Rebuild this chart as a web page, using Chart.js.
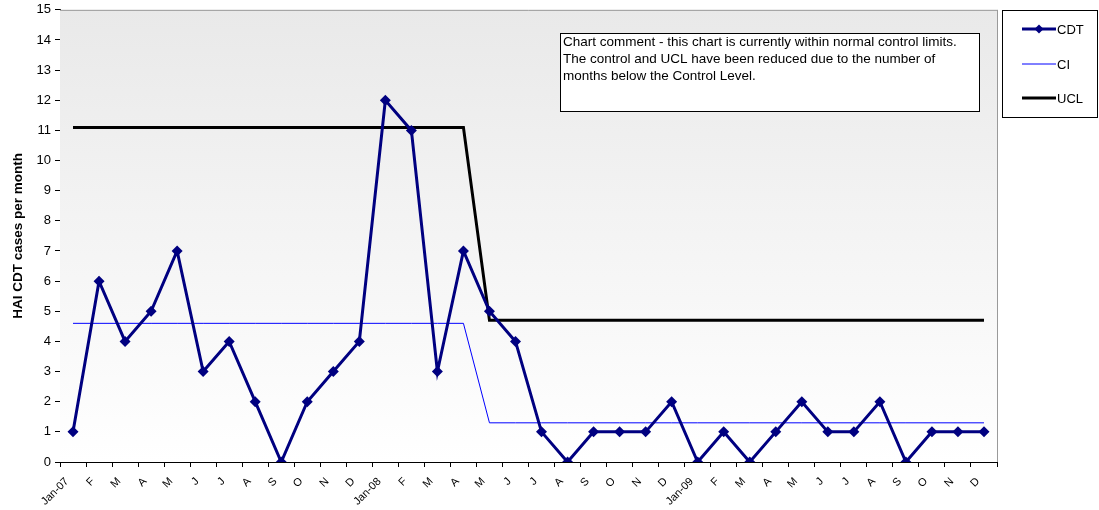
<!DOCTYPE html>
<html><head><meta charset="utf-8">
<script src="https://cdn.jsdelivr.net/npm/chart.js@4.4.1/dist/chart.umd.min.js"></script>
<style>html,body{margin:0;padding:0;background:#fff;}#wrap{position:relative;width:1099px;height:510px;}</style>
</head><body><div id="wrap"><canvas id="c" width="1099" height="510"></canvas></div>
<script>
const categories = ["Jan-07","F","M","A","M","J","J","A","S","O","N","D","Jan-08","F","M","A","M","J","J","A","S","O","N","D","Jan-09","F","M","A","M","J","J","A","S","O","N","D"];
const cdtValues = [1,6,4,5,7,3,4,2,0,2,3,4,12,11,3,7,5,4,1,0,1,1,1,2,0,1,0,1,2,1,1,2,0,1,1,1];
const ciValues = [4.6,4.6,4.6,4.6,4.6,4.6,4.6,4.6,4.6,4.6,4.6,4.6,4.6,4.6,4.6,4.6,1.3,1.3,1.3,1.3,1.3,1.3,1.3,1.3,1.3,1.3,1.3,1.3,1.3,1.3,1.3,1.3,1.3,1.3,1.3,1.3];
const uclValues = [11.1,11.1,11.1,11.1,11.1,11.1,11.1,11.1,11.1,11.1,11.1,11.1,11.1,11.1,11.1,11.1,4.7,4.7,4.7,4.7,4.7,4.7,4.7,4.7,4.7,4.7,4.7,4.7,4.7,4.7,4.7,4.7,4.7,4.7,4.7,4.7];
const yTicks = [0,1,2,3,4,5,6,7,8,9,10,11,12,13,14,15];
const seriesNames = ["CDT","CI","UCL"];
const commentText = ["Chart comment - this chart is currently within normal control limits.","The control and UCL have been reduced due to the number of","months below the Control Level."];
const yTitle = "HAI CDT cases per month";

const FONT = "'Liberation Sans', Arial, sans-serif";

const bgPlugin = {
  id: 'bg',
  beforeDatasetsDraw(chart) {
    const {ctx, chartArea: a} = chart;
    ctx.save();
    const g = ctx.createLinearGradient(0, a.top, 0, a.bottom);
    g.addColorStop(0, '#e9e9e9');
    g.addColorStop(1, '#ffffff');
    ctx.fillStyle = g;
    ctx.fillRect(a.left, a.top, a.right - a.left, a.bottom - a.top);
    ctx.strokeStyle = '#9a9a9a';
    ctx.lineWidth = 1;
    ctx.beginPath();
    ctx.moveTo(a.left, a.top + 0.5); ctx.lineTo(a.right + 0.5, a.top + 0.5);
    ctx.moveTo(a.right + 0.5, a.top); ctx.lineTo(a.right + 0.5, a.bottom);
    ctx.stroke();
    ctx.restore();
  },
  afterDraw(chart) {
    const ctx = chart.ctx;
    ctx.save();
    // comment box
    ctx.fillStyle = '#fff';
    ctx.fillRect(560, 33, 419, 78);
    ctx.strokeStyle = '#000';
    ctx.lineWidth = 1;
    ctx.strokeRect(560.5, 33.5, 419, 78);
    ctx.fillStyle = '#000';
    ctx.font = '13.5px ' + FONT;
    ctx.textBaseline = 'middle';
    commentText.forEach((t, i) => ctx.fillText(t, 563, 42 + i * 17));
    // legend
    ctx.fillStyle = '#fff';
    ctx.fillRect(1002, 10, 96, 107);
    ctx.strokeRect(1002.5, 10.5, 95, 107);
    const ys = [29, 64, 98];
    chart.data.datasets.forEach((ds, i) => {
      const y = ys[i];
      ctx.strokeStyle = ds.borderColor;
      ctx.lineWidth = ds.borderWidth;
      ctx.beginPath(); ctx.moveTo(1022, y); ctx.lineTo(1056, y); ctx.stroke();
      if (i === 0) {
        ctx.fillStyle = ds.borderColor;
        ctx.beginPath();
        ctx.moveTo(1039, y - 4.5); ctx.lineTo(1043.5, y); ctx.lineTo(1039, y + 4.5); ctx.lineTo(1034.5, y);
        ctx.closePath(); ctx.fill();
      }
      ctx.fillStyle = '#000';
      ctx.font = '13px ' + FONT;
      ctx.fillText(ds.label, 1057, y + 1);
    });
    ctx.restore();
  }
};

new Chart(document.getElementById('c'), {
  type: 'line',
  data: {
    labels: categories,
    datasets: [
      {label: seriesNames[0], data: cdtValues, borderColor: '#000080', backgroundColor: '#000080', borderWidth: 3, pointStyle: 'rectRot', pointRadius: 5.5, pointBorderWidth: 0, tension: 0, order: 0},
      {label: seriesNames[1], data: ciValues, borderColor: '#0000ff', borderWidth: 1, pointRadius: 0, tension: 0, order: 2},
      {label: seriesNames[2], data: uclValues, borderColor: '#000000', borderWidth: 3, pointRadius: 0, tension: 0, order: 1}
    ]
  },
  options: {
    responsive: false,
    animation: false,
    layout: {padding: {top: 0, right: 102, left: 0, bottom: 0}},
    plugins: {legend: {display: false}, tooltip: {enabled: false}},
    scales: {
      x: {
        offset: true,
        grid: {display: true, drawOnChartArea: false, offset: true, tickLength: 5, color: '#000'},
        border: {color: '#000', width: 1},
        ticks: {autoSkip: false, maxRotation: 45, minRotation: 45, color: '#000', font: {family: FONT, size: 11}, padding: 8, labelOffset: -6},
        afterFit(s) { s.height = 48; }
      },
      y: {
        min: 0, max: 15,
        afterBuildTicks(s) { s.ticks = yTicks.map(v => ({value: v})); },
        grid: {display: true, drawOnChartArea: false, tickLength: 5, color: '#000'},
        border: {color: '#000', width: 1},
        ticks: {color: '#000', font: {family: FONT, size: 13, lineHeight: 0.9}, padding: 4},
        title: {display: true, text: yTitle, color: '#000', font: {family: FONT, size: 13.5, weight: 'bold'}, padding: {top: 10, bottom: 2}},
        afterFit(s) { s.width = 60; }
      }
    }
  },
  plugins: [bgPlugin]
});
</script></body></html>
